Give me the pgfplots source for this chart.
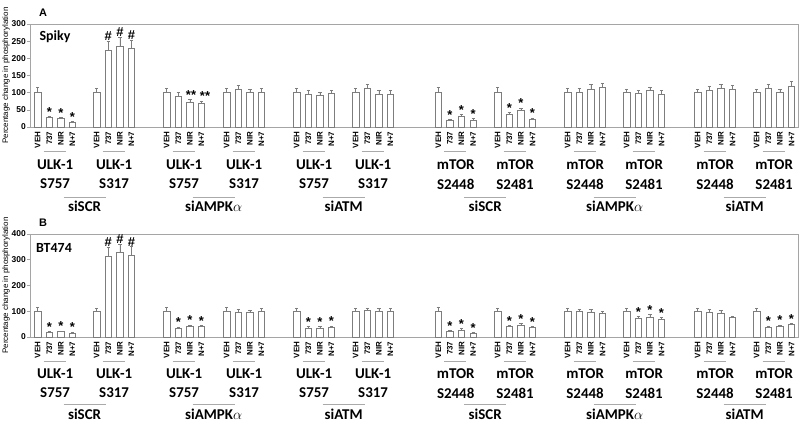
\documentclass[border=0pt]{standalone}
\usepackage{pgfplots}
\pgfplotsset{compat=1.18}
\usepackage{pgfplotstable}
\usepackage{fontspec}
\setmainfont{Liberation Sans}
\newfontfamily\calib{Carlito}

\definecolor{axg}{RGB}{165,165,165}
\definecolor{barg}{RGB}{125,125,125}
\definecolor{lng}{RGB}{170,170,170}

\pgfplotstableread{
x y e
37.7 100 15
49.3 27 4
60.9 24 3
72.5 13 3
96.7 100 14
108.3 222 28
119.9 235 27
131.5 228 25
166.7 100 14
178.3 88 12
189.9 72 8
201.5 68 8
226.7 100 12
238.3 110 11
249.9 100 11
261.5 100 12
296.7 100 12
308.3 95 11
319.9 92 10
331.5 97 10
355.7 100 12
367.3 112 11
378.9 95 12
390.5 95 11
438.3 100 15
449.9 18 4
461.5 30 6
473.1 20 4
497.7 100 15
509.3 38 4
520.9 49 6
532.5 23 3
567.7 100 12
579.3 102 10
590.9 110 13
602.5 115 12
626.7 100 11
638.3 97 10
649.9 106 11
661.5 96 10
697.7 100 11
709.3 107 11
720.9 112 12
732.5 110 12
756.7 100 10
768.3 112 11
779.9 100 10
791.5 118 14
}\dataA

\pgfplotstableread{
x y e
37.7 100 14
49.3 20 2
60.9 21 3
72.5 16 3
96.7 100 12
108.3 315 35
119.9 328 33
131.5 318 33
166.7 100 14
178.3 35 4
189.9 42 4
201.5 40 5
226.7 100 14
238.3 97 12
249.9 95 10
261.5 100 12
296.7 100 13
308.3 35 6
319.9 35 5
331.5 38 5
355.7 100 12
367.3 103 10
378.9 98 12
390.5 100 12
438.3 100 17
449.9 22 4
461.5 27 6
473.1 15 3
497.7 100 12
509.3 40 5
520.9 47 6
532.5 37 4
567.7 100 12
579.3 98 10
590.9 97 10
602.5 90 8
626.7 100 12
638.3 72 8
649.9 78 10
661.5 68 8
697.7 100 12
709.3 97 10
720.9 92 10
732.5 78 4
756.7 100 12
768.3 38 4
779.9 42 5
791.5 48 5
}\dataB

% annotation positions (top of error bar)
\pgfplotstableread{
x y
49.3 31
60.9 27
72.5 16
449.9 22
461.5 36
473.1 24
509.3 42
520.9 55
532.5 26
}\starA
\pgfplotstableread{
x y
191 80
205 76
}\dstarA
\pgfplotstableread{
x y
108.3 250
119.9 262
131.5 253
}\hashA

\pgfplotstableread{
x y
49.3 22
60.9 24
72.5 19
178.3 39
189.9 46
201.5 45
308.3 41
319.9 40
331.5 43
449.9 26
461.5 33
473.1 18
509.3 45
520.9 53
532.5 41
638.3 80
649.9 88
661.5 76
768.3 42
779.9 47
791.5 53
}\starB
\pgfplotstableread{
x y
108.3 350
119.9 361
131.5 351
}\hashB

\tikzset{glab/.style={font=\calib\bfseries\fontsize{15}{15}\selectfont, inner sep=0pt}}

\pgfplotsset{
  common/.style={
    scale only axis, width=768bp, height=103bp, xmin=30, xmax=798, clip=false,
    axis line style={axg, line width=0.8bp},
    xtick=data, xtick style={draw=none},
    ytick pos=left, ytick style={axg, line width=0.6bp},
    tick align=outside, major tick length=3bp,
    /pgf/number format/assume math mode=true,
    yticklabel style={font=\bfseries\fontsize{8.5}{9}\selectfont, inner sep=1bp},
    xticklabel style={rotate=90, anchor=east, font=\bfseries\fontsize{8}{8}\selectfont, inner sep=1.5bp},
    xticklabels={VEH,737,NIR,N+7,VEH,737,NIR,N+7,VEH,737,NIR,N+7,VEH,737,NIR,N+7,VEH,737,NIR,N+7,VEH,737,NIR,N+7,VEH,737,NIR,N+7,VEH,737,NIR,N+7,VEH,737,NIR,N+7,VEH,737,NIR,N+7,VEH,737,NIR,N+7,VEH,737,NIR,N+7},
    ylabel={Percentage change in phosphorylation},
    ylabel style={at={(axis description cs:-0.03125,0.5)}, anchor=center, font=\fontsize{8}{9}\selectfont},
  },
  bars/.style={ybar, bar width=6.5, fill=white, draw=barg, line width=0.7bp,
    error bars/.cd, y dir=plus, y explicit,
    error bar style={barg, line width=0.6bp},
    error mark options={rotate=90, mark size=1.6bp, barg, line width=0.6bp}},
  ann/.style={only marks, mark=*, mark size=0pt, mark options={draw opacity=0, fill opacity=0},
    nodes near coords={#1},
    nodes near coords style={anchor=south, inner sep=0pt, opacity=1, font=\bfseries\fontsize{13}{13}\selectfont}},
  hash/.style={only marks, mark=*, mark size=0pt, mark options={draw opacity=0, fill opacity=0},
    nodes near coords={\#},
    nodes near coords style={anchor=south, inner sep=0pt, opacity=1, font=\bfseries\fontsize{13}{13}\selectfont}},
}

\newcommand{\grp}[3]{%
  \draw[lng, line width=0.7bp] ([xshift=6bp,yshift=\lineoff]axis cs:#1,0) -- ([xshift=28bp,yshift=\lineoff]axis cs:#1,0);
  \node[glab] at ([xshift=17.4bp,yshift=\labA]axis cs:#1,0) {#2};
  \node[glab] at ([xshift=17.4bp,yshift=\labB]axis cs:#1,0) {#3};
}
\newcommand{\trt}[2]{%
  \draw[lng, line width=0.7bp] ([xshift=-21bp,yshift=\tline]axis cs:#1,0) -- ([xshift=21bp,yshift=\tline]axis cs:#1,0);
  \node[glab] at ([yshift=\tlab]axis cs:#1,0) {#2};
}
\newcommand{\alfa}{{\fontsize{15}{15}\selectfont$\alpha$}}
\newcommand{\labels}{%
\grp{37.7}{ULK-1}{S757}
\grp{96.7}{ULK-1}{S317}
\grp{166.7}{ULK-1}{S757}
\grp{226.7}{ULK-1}{S317}
\grp{296.7}{ULK-1}{S757}
\grp{355.7}{ULK-1}{S317}
\grp{438.3}{mTOR}{S2448}
\grp{497.7}{mTOR}{S2481}
\grp{567.7}{mTOR}{S2448}
\grp{626.7}{mTOR}{S2481}
\grp{697.7}{mTOR}{S2448}
\grp{756.7}{mTOR}{S2481}
\trt{84.6}{siSCR}
\trt{213.6}{siAMPK\alfa}
\trt{343.6}{siATM}
\trt{485.2}{siSCR}
\trt{614.6}{siAMPK\alfa}
\trt{744.6}{siATM}
}

\begin{document}
\begin{tikzpicture}
\useasboundingbox (0,0) rectangle (800bp,425bp);

% ---------- Panel A ----------
\def\lineoff{-24.5bp}\def\labA{-38bp}\def\labB{-57bp}\def\tline{-70bp}\def\tlab{-79bp}
\begin{axis}[common, at={(30bp,298bp)}, anchor=south west,
  ymin=0, ymax=300, ytick={0,50,...,300}]
\addplot[bars] table[x=x, y=y, y error=e] {\dataA};
\addplot[ann={*}] table[x=x, y=y] {\starA};
\addplot[ann={**}] table[x=x, y=y] {\dstarA};
\addplot[hash] table[x=x, y=y] {\hashA};
\labels
\end{axis}

% ---------- Panel B ----------
\def\lineoff{-24bp}\def\labA{-37bp}\def\labB{-56bp}\def\tline{-67bp}\def\tlab{-77bp}
\begin{axis}[common, at={(30bp,88bp)}, anchor=south west,
  ymin=0, ymax=400, ytick={0,100,...,400}]
\addplot[bars] table[x=x, y=y, y error=e] {\dataB};
\addplot[ann={*}] table[x=x, y=y] {\starB};
\addplot[hash] table[x=x, y=y] {\hashB};
\labels
\end{axis}

\node[font=\bfseries\fontsize{11}{11}\selectfont] at (43bp,412bp) {A};
\node[font=\bfseries\fontsize{11}{11}\selectfont] at (43bp,202bp) {B};
\node[font=\calib\bfseries\fontsize{14}{14}\selectfont] at (55bp,388bp) {Spiky};
\node[font=\calib\bfseries\fontsize{14}{14}\selectfont] at (54bp,177bp) {BT474};
\end{tikzpicture}
\end{document}
